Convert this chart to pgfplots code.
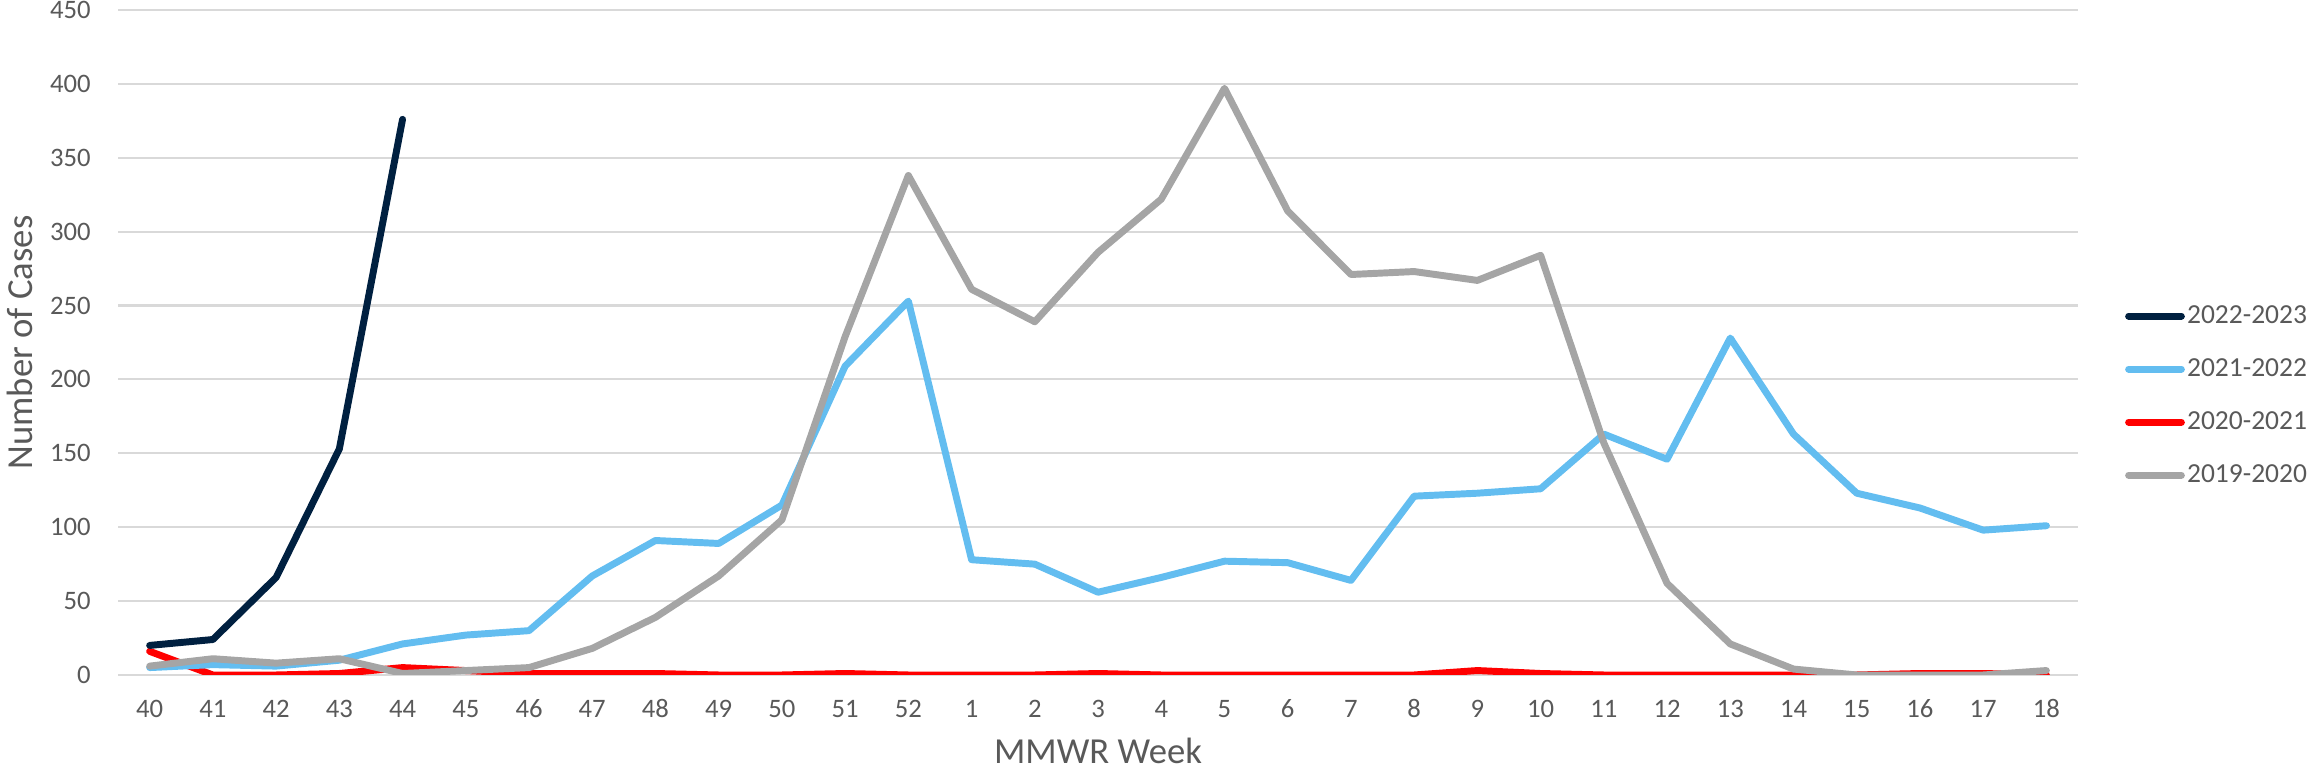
\documentclass[border=0pt]{standalone}
\usepackage{fontspec}
\setmainfont{Carlito}
\usepackage{pgfplots}
\pgfplotsset{compat=1.18}
\definecolor{navy}{HTML}{002040}
\definecolor{lblue}{HTML}{63BDF0}
\definecolor{sred}{HTML}{FF0000}
\definecolor{sgrey}{HTML}{A5A5A5}
\definecolor{txt}{HTML}{595959}
\definecolor{grid}{HTML}{D9D9D9}
\begin{document}
\begin{tikzpicture}
\begin{axis}[
  scale only axis,
  width=705.6pt, height=239.4pt,
  xmin=-0.5, xmax=30.5, ymin=0, ymax=450,
  ytick={0,50,...,450},
  xtick={0,...,30},
  xticklabels={40,41,42,43,44,45,46,47,48,49,50,51,52,1,2,3,4,5,6,7,8,9,10,11,12,13,14,15,16,17,18},
  axis line style={draw=none},
  major tick length=0pt,
  tick style={draw=none},
  ymajorgrids, major grid style={draw=grid, line width=0.75pt},
  /pgf/number format/assume math mode=true,
  ticklabel style={font=\fontsize{9.6}{11}\selectfont, text=txt, inner sep=0pt},
  xticklabel style={anchor=base, yshift=-15.3pt},
  yticklabel style={anchor=east, xshift=-9.7pt},
  xlabel={MMWR Week},
  ylabel={Number of Cases},
  label style={font=\fontsize{13.2}{15}\selectfont, text=txt},
  xlabel style={at={(axis description cs:0.5,0)}, anchor=center, yshift=-27.3pt},
  ylabel style={at={(axis description cs:0,0.5)}, anchor=center, rotate=0, yshift=35.3pt},
  legend style={draw=none, fill=none, at={(rel axis cs:1.0195,0.42)}, anchor=west,
    font=\fontsize{9.9}{12}\selectfont, text=txt, row sep=9pt,
    nodes={inner sep=0.8pt, text height=7pt, text depth=1.5pt}},
  legend cell align=left,
  legend image code/.code={\draw[#1] (0pt,0pt) -- (19pt,0pt);},
  every axis plot/.append style={line width=2.5pt, line join=round, line cap=round, mark=none},
]
\addlegendimage{navy, line width=2.5pt}
\addlegendimage{lblue, line width=2.5pt}
\addlegendimage{sred, line width=2.5pt}
\addlegendimage{sgrey, line width=2.5pt}
\legend{2022-2023,2021-2022,2020-2021,2019-2020}
% 2020-2021
\addplot[sred, forget plot] coordinates {(0,16)(1,0)(2,0)(3,1)(4,5)(5,3)(6,1)(7,1)(8,1)(9,0)(10,0)(11,1)(12,0)(13,0)(14,0)(15,1)(16,0)(17,0)(18,0)(19,0)(20,0)(21,3)(22,1)(23,0)(24,0)(25,0)(26,0)(27,0)(28,1)(29,1)(30,0)};
% 2021-2022
\addplot[lblue, forget plot] coordinates {(0,5)(1,7)(2,6)(3,10)(4,21)(5,27)(6,30)(7,67)(8,91)(9,89)(10,115)(11,209)(12,253)(13,78)(14,75)(15,56)(16,66)(17,77)(18,76)(19,64)(20,121)(21,123)(22,126)(23,163)(24,146)(25,228)(26,163)(27,123)(28,113)(29,98)(30,101)};
% 2019-2020
\addplot[sgrey, forget plot] coordinates {(0,6)(1,11)(2,8)(3,11)(4,1)(5,3)(6,5)(7,18)(8,39)(9,67)(10,105)(11,229)(12,338)(13,261)(14,239)(15,286)(16,322)(17,397)(18,314)(19,271)(20,273)(21,267)(22,284)(23,157)(24,62)(25,21)(26,4)(27,0)(28,0)(29,0)(30,3)};
% 2022-2023
\addplot[navy, forget plot] coordinates {(0,20)(1,24)(2,66)(3,153)(4,376)};
\end{axis}
\pgfresetboundingbox
\path[use as bounding box] ([xshift=-42.5pt,yshift=-34.6pt]current axis.south west) rectangle ([xshift=82.8pt,yshift=3.6pt]current axis.north east);
\end{tikzpicture}
\end{document}
